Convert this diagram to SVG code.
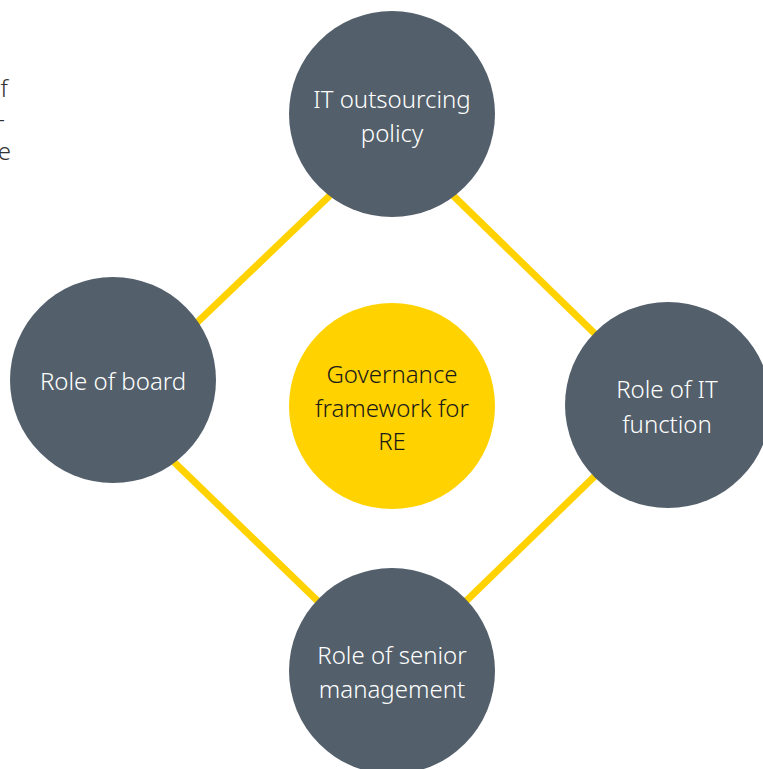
<svg xmlns="http://www.w3.org/2000/svg" width="763" height="769" viewBox="0 0 763 769">
<style>
.node{fill:#535f6b}
.core{fill:#ffd200}
.lbl{font-family:"Noto Sans","Liberation Sans",sans-serif;font-size:24px;font-weight:300;text-anchor:middle;fill:#ffffff}
.dark{fill:#1a1a1a}
.frag{font-family:"Noto Sans","Liberation Sans",sans-serif;font-size:24px;font-weight:300;text-anchor:end;fill:#333333}
.link{fill:none;stroke:#ffd200;stroke-width:7}
</style>
<rect width="763" height="769" fill="#ffffff"/>
<g id="fragment">
<text class="frag" x="8" y="97">f</text>
<text class="frag" x="5" y="127">-</text>
<text class="frag" x="11" y="160">e</text>
</g>
<g id="connectors">
<line class="link" x1="113" y1="403" x2="392" y2="136"/>
<line class="link" x1="392" y1="136" x2="668" y2="405"/>
<line class="link" x1="113" y1="403" x2="392" y2="673"/>
<line class="link" x1="392" y1="673" x2="668" y2="405"/>
</g>
<g id="it-outsourcing-policy">
<circle class="node" cx="392" cy="114" r="103"/>
<text class="lbl" x="392" y="108">IT outsourcing</text>
<text class="lbl" x="392" y="142">policy</text>
</g>
<g id="role-of-board">
<circle class="node" cx="113" cy="380" r="103"/>
<text class="lbl" x="113" y="390">Role of board</text>
</g>
<g id="governance-framework">
<circle class="core" cx="392" cy="406" r="103"/>
<text class="lbl dark" x="392" y="383">Governance</text>
<text class="lbl dark" x="392" y="417">framework for</text>
<text class="lbl dark" x="392" y="450">RE</text>
</g>
<g id="role-of-it-function">
<circle class="node" cx="668" cy="405" r="103"/>
<text class="lbl" x="667" y="398">Role of IT</text>
<text class="lbl" x="667" y="433">function</text>
</g>
<g id="role-of-senior-management">
<circle class="node" cx="392" cy="671" r="103"/>
<text class="lbl" x="392" y="664">Role of senior</text>
<text class="lbl" x="392" y="698">management</text>
</g>
</svg>
